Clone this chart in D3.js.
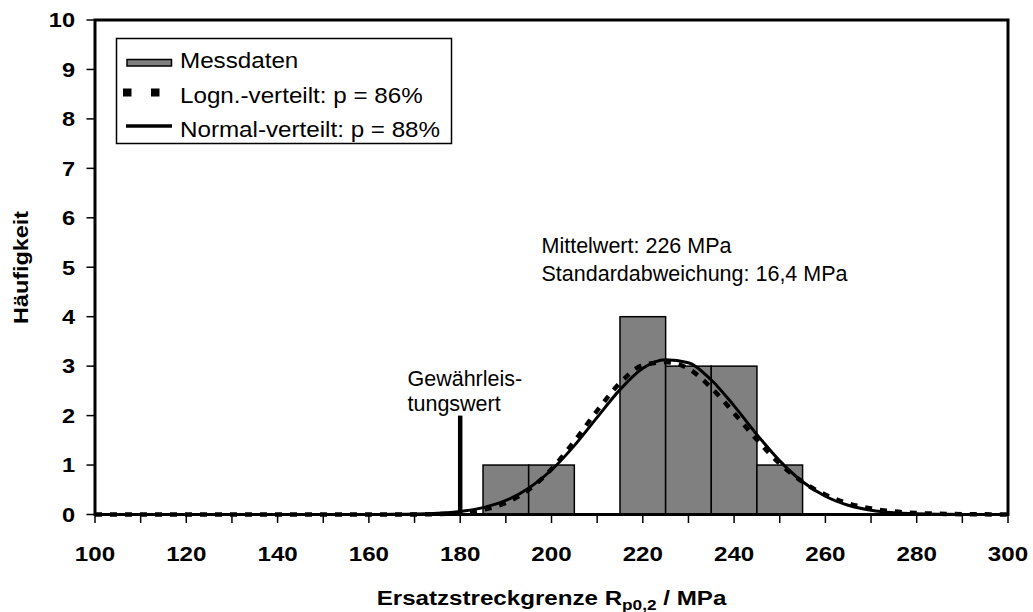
<!DOCTYPE html>
<html>
<head>
<meta charset="utf-8">
<script src="https://cdn.jsdelivr.net/npm/d3@7"></script>
<style>
  html, body { margin: 0; padding: 0; background: #fff; }
  svg { display: block; font-family: "Liberation Sans", Arial, sans-serif; }
</style>
</head>
<body>
<svg id="chart" width="1033" height="612"></svg>
<script>
// Histogram of measured values (bin centers in MPa, bin width 10 MPa)
const binCenters = [190, 200, 210, 220, 230, 240, 250];
const binCounts  = [1, 1, 0, 4, 3, 3, 1];
const binWidth = 10;

// Fitted density curves, scaled to frequency per bin
const curveX = [100, 105, 110, 115, 120, 125, 130, 135, 140, 145, 150, 155, 160, 165,
                170, 175, 180, 185, 190, 195, 200, 205, 210, 215, 220, 225, 230, 235,
                240, 245, 250, 255, 260, 265, 270, 275, 280, 285, 290, 295, 300];
const normalY = [0, 0, 0, 0, 0, 0, 0, 0, 0, 0, 0, 0, 0, 0.003,
                 0.009, 0.025, 0.062, 0.139, 0.284, 0.53, 0.9, 1.393, 1.965, 2.525, 2.958, 3.13, 3.07, 2.72,
                 2.197, 1.616, 1.084, 0.662, 0.369, 0.187, 0.087, 0.036, 0.014, 0.005, 0.002, 0, 0];
const lognormY = [0, 0, 0, 0, 0, 0, 0, 0, 0, 0, 0, 0, 0, 0.001,
                  0.002, 0.009, 0.033, 0.095, 0.236, 0.5, 0.92, 1.48, 2.1, 2.66, 3.02, 3.08, 2.95, 2.56,
                  2.05, 1.51, 1.03, 0.66, 0.4, 0.225, 0.12, 0.061, 0.029, 0.014, 0.006, 0.003, 0.001];

// Axis ticks
const xMajorTicks = [100, 120, 140, 160, 180, 200, 220, 240, 260, 280, 300];
const xMinorTicks = [100, 110, 120, 130, 140, 150, 160, 170, 180, 190, 200, 210, 220, 230, 240, 250, 260, 270, 280, 290, 300];
const yTicks = [0, 1, 2, 3, 4, 5, 6, 7, 8, 9, 10];

// Guaranteed minimum value marker
const guaranteeValue = 180;
const guaranteeHeight = 2;

// Texts
const legendLabels = ["Messdaten", "Logn.-verteilt: p = 86%", "Normal-verteilt: p = 88%"];
const statLines = ["Mittelwert: 226 MPa", "Standardabweichung: 16,4 MPa"];
const guaranteeLines = ["Gewährleis-", "tungswert"];

const plot = { left: 95, right: 1008, top: 20, bottom: 514.5 };

const svg = d3.select("#chart");
const x = d3.scaleLinear().domain([100, 300]).range([plot.left, plot.right]);
const y = d3.scaleLinear().domain([0, 10]).range([plot.bottom, plot.top]);

// text helper with slight horizontal widening of the glyphs
function addText(parent, px, py, str, size, weight, anchor, sx, rot) {
  const t = parent.append("text")
    .attr("transform", `translate(${px},${py})` + (rot ? ` rotate(${rot})` : "") + ` scale(${sx},1)`)
    .attr("font-size", size)
    .attr("font-weight", weight)
    .attr("text-anchor", anchor)
    .attr("fill", "#000")
    .text(str);
  return t;
}

// Bars
svg.append("g").selectAll("rect")
  .data(binCenters.map((c, i) => ({ c, n: binCounts[i] })).filter(d => d.n > 0))
  .join("rect")
  .attr("x", d => x(d.c - binWidth / 2))
  .attr("width", d => x(d.c + binWidth / 2) - x(d.c - binWidth / 2))
  .attr("y", d => y(d.n))
  .attr("height", d => y(0) - y(d.n))
  .attr("fill", "#808080")
  .attr("stroke", "#000")
  .attr("stroke-width", 1.5);

// Curves
const line = d3.line().x(d => x(d[0])).y(d => y(d[1])).curve(d3.curveMonotoneX);
svg.append("path")
  .datum(curveX.map((v, i) => [v, lognormY[i]]))
  .attr("d", line)
  .attr("fill", "none")
  .attr("stroke", "#000")
  .attr("stroke-width", 4.5)
  .attr("stroke-dasharray", "7,8");
svg.append("path")
  .datum(curveX.map((v, i) => [v, normalY[i]]))
  .attr("d", line)
  .attr("fill", "none")
  .attr("stroke", "#000")
  .attr("stroke-width", 3);

// Guarantee marker
svg.append("line")
  .attr("x1", x(guaranteeValue)).attr("x2", x(guaranteeValue))
  .attr("y1", y(0)).attr("y2", y(guaranteeHeight))
  .attr("stroke", "#000").attr("stroke-width", 4.5);

// Plot frame
svg.append("rect")
  .attr("x", plot.left).attr("y", plot.top)
  .attr("width", plot.right - plot.left).attr("height", plot.bottom - plot.top)
  .attr("fill", "none").attr("stroke", "#000").attr("stroke-width", 3);

// X axis ticks and labels
const gx = svg.append("g");
gx.selectAll("line").data(xMinorTicks).join("line")
  .attr("x1", d => x(d)).attr("x2", d => x(d))
  .attr("y1", plot.bottom).attr("y2", plot.bottom + 8.5)
  .attr("stroke", "#000").attr("stroke-width", 1.5);
xMajorTicks.forEach(v => addText(gx, x(v), 561, d3.format("d")(v), 21, "bold", "middle", 1.15));

// Y axis ticks and labels
const gy = svg.append("g");
gy.selectAll("line").data(yTicks).join("line")
  .attr("x1", plot.left - 8.5).attr("x2", plot.left)
  .attr("y1", d => y(d)).attr("y2", d => y(d))
  .attr("stroke", "#000").attr("stroke-width", 1.5);
yTicks.forEach(v => addText(gy, 75, y(v) + 7.3, String(v), 20.5, "bold", "end", 1.15));

// Axis titles
addText(svg, 27.5, 267.5, "Häufigkeit", 19.5, "bold", "middle", 1.2, -90);
const xt = svg.append("text")
  .attr("transform", `translate(${(plot.left + plot.right) / 2},605) scale(1.15,1)`)
  .attr("font-size", 21).attr("font-weight", "bold").attr("text-anchor", "middle");
xt.append("tspan").text("Ersatzstreckgrenze R");
xt.append("tspan").attr("font-size", 15).attr("dy", 5).text("p0,2");
xt.append("tspan").attr("dy", -5).text(" / MPa");

// Annotations
statLines.forEach((s, i) => addText(svg, 541.5, 253 + i * 28, s, 21.5, "normal", "start", 1));
guaranteeLines.forEach((s, i) => addText(svg, 407.5, 386 + i * 25, s, 21.5, "normal", "start", 1));

// Legend
const lg = svg.append("g");
lg.append("rect").attr("x", 116.5).attr("y", 38.5).attr("width", 335).attr("height", 105)
  .attr("fill", "#fff").attr("stroke", "#000").attr("stroke-width", 1.5);
lg.append("rect").attr("x", 127).attr("y", 59.5).attr("width", 44.5).attr("height", 6.5)
  .attr("fill", "#808080").attr("stroke", "#000").attr("stroke-width", 1.5);
lg.append("line").attr("x1", 123).attr("x2", 171.5).attr("y1", 92.5).attr("y2", 92.5)
  .attr("stroke", "#000").attr("stroke-width", 8).attr("stroke-dasharray", "8.5,19.5");
lg.append("line").attr("x1", 126).attr("x2", 172).attr("y1", 126).attr("y2", 126)
  .attr("stroke", "#000").attr("stroke-width", 3.5);
const rowsY = [68, 102.5, 136.5];
legendLabels.forEach((s, i) => addText(lg, 180, rowsY[i], s, 22, "normal", "start", 1.1));
</script>
</body>
</html>
